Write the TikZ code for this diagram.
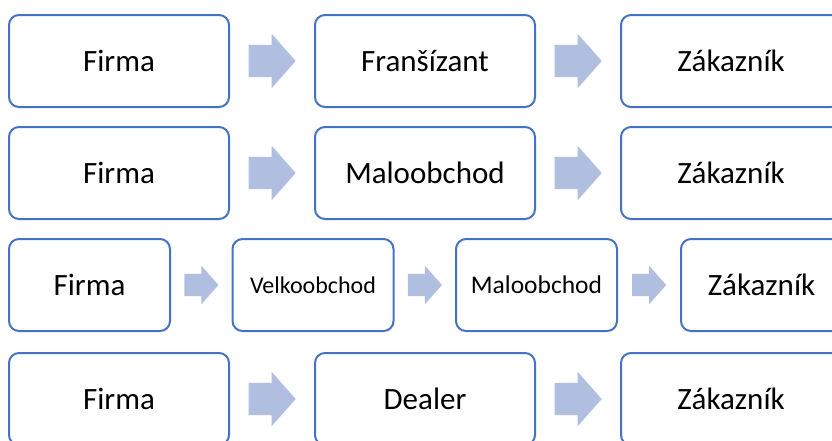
\documentclass[tikz,border=0pt]{standalone}
\usepackage{fontspec}
\setmainfont{Carlito}
\usepackage{xcolor}
\usepackage{tikz}
\usetikzlibrary{calc,shapes.arrows}

\definecolor{boxblue}{RGB}{68,114,196}
\definecolor{arrowblue}{RGB}{176,190,224}

\begin{document}
\begin{tikzpicture}[
  x=1pt,y=-1pt,
  font=\fontsize{31}{37}\selectfont,
  party/.style={draw=boxblue,line width=2pt,rounded corners=10pt,fill=white,
                minimum width=220pt,minimum height=92pt,inner sep=0pt},
  narrow/.style={party,minimum width=161pt},
  flow/.style={single arrow,fill=arrowblue,inner xsep=0pt,inner ysep=16pt,
               minimum height=47pt,single arrow head extend=11pt,
               single arrow tip angle=97,anchor=tail,xshift=-23.5pt},
  shortflow/.style={flow,inner ysep=11pt,minimum height=34pt,
               single arrow head extend=8pt,xshift=6.5pt}
]
\useasboundingbox (0,0) rectangle (832,440);
\clip (0,0) rectangle (832,440);

% row 1
\node[party] (firmaA) at (119,61) {Firma};
\node[party] (fransizant) at (425,61) {Franšízant};
\node[party] (zakaznikA) at (731,61) {Zákazník};

% row 2
\node[party] (firmaB) at (119,173) {Firma};
\node[party] (maloB) at (425,173) {Maloobchod};
\node[party] (zakaznikB) at (731,173) {Zákazník};

% row 3
\node[narrow] (firmaC) at (89.5,285) {Firma};
\node[narrow,font=\fontsize{24}{29}\selectfont] (velkoC) at (313,285) {Velkoobchod};
\node[narrow,font=\fontsize{25.5}{30}\selectfont] (maloC) at (536.5,285) {Maloobchod};
\node[narrow] (zakaznikC) at (761.5,285) {Zákazník};

% row 4
\node[party] (firmaD) at (119,399) {Firma};
\node[party] (dealer) at (425,399) {Dealer};
\node[party] (zakaznikD) at (731,399) {Zákazník};

\node[flow] (fA1) at ($(firmaA.east)!0.5!(fransizant.west)$) {};
\node[flow] (fA2) at ($(fransizant.east)!0.5!(zakaznikA.west)$) {};
\node[flow] (fB1) at ($(firmaB.east)!0.5!(maloB.west)$) {};
\node[flow] (fB2) at ($(maloB.east)!0.5!(zakaznikB.west)$) {};
\node[shortflow] (fC1) at ($(firmaC.east)!0.5!(velkoC.west)$) {};
\node[shortflow] (fC2) at ($(velkoC.east)!0.5!(maloC.west)$) {};
\node[shortflow] (fC3) at ($(maloC.east)!0.5!(zakaznikC.west)$) {};
\node[flow] (fD1) at ($(firmaD.east)!0.5!(dealer.west)$) {};
\node[flow] (fD2) at ($(dealer.east)!0.5!(zakaznikD.west)$) {};
\end{tikzpicture}
\end{document}
